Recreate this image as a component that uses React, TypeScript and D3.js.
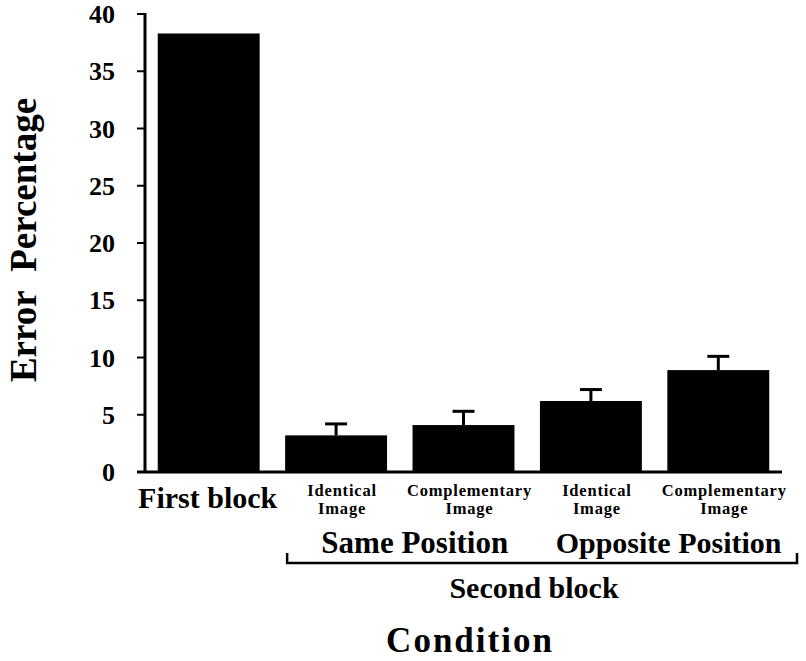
import React from 'react';
import * as d3 from 'd3';

// values
const conditions = ['first', 'same-identical', 'same-complementary', 'opp-identical', 'opp-complementary'];
const errorPct = [38.3, 3.2, 4.1, 6.2, 8.9];
const errorSE = [0, 1.0, 1.2, 1.0, 1.2];
const yTicks = [0, 5, 10, 15, 20, 25, 30, 35, 40];
const barLabels = [['First block'], ['Identical', 'Image'], ['Complementary', 'Image'], ['Identical', 'Image'], ['Complementary', 'Image']];
const groupLabels = ['Same Position', 'Opposite Position'];

const W = 806;
const H = 661;
const margin = { top: 14, right: 24, bottom: 189, left: 145 };
const font = '"Liberation Serif", "Times New Roman", serif';

const App = () => {
  const y = d3.scaleLinear().domain([0, 40]).range([H - margin.bottom, margin.top]);
  const x = d3
    .scaleBand()
    .domain(conditions)
    .range([margin.left, W - margin.right])
    .paddingInner(0.2)
    .paddingOuter(0.1);

  const y0 = y(0);
  const cx = (i) => (x(conditions[i]) ?? 0) + x.bandwidth() / 2;
  const capW = 22;

  // bracket under the second block groups
  const brLeft = x(conditions[1])! + 2;
  const brRight = 797;
  const brY = 563;

  return (
    <svg
      width={W}
      height={H}
      style={{ position: 'absolute', left: 0, top: 0, background: '#fff' }}
      fontFamily={font}
      fontWeight="bold"
    >
      {/* bars */}
      {errorPct.map((v, i) => (
        <rect
          key={conditions[i]}
          x={x(conditions[i])}
          y={y(v)}
          width={x.bandwidth()}
          height={y0 - y(v)}
          fill="#000"
        />
      ))}

      {/* error bars (upper only) */}
      {errorPct.map((v, i) =>
        errorSE[i] > 0 ? (
          <g key={'e' + i} stroke="#000" strokeWidth={3}>
            <line x1={cx(i)} x2={cx(i)} y1={y(v)} y2={y(v + errorSE[i])} />
            <line x1={cx(i) - capW / 2} x2={cx(i) + capW / 2} y1={y(v + errorSE[i])} y2={y(v + errorSE[i])} />
          </g>
        ) : null
      )}

      {/* y axis */}
      <line x1={margin.left} x2={margin.left} y1={y(40) - 1} y2={y0} stroke="#000" strokeWidth={3} />
      {yTicks.map((t) => (
        <g key={t}>
          <line x1={margin.left - 8} x2={margin.left} y1={y(t)} y2={y(t)} stroke="#000" strokeWidth={2} />
          <text x={115} y={y(t)} dy="0.35em" textAnchor="end" fontSize={26}>
            {t}
          </text>
        </g>
      ))}

      {/* x axis */}
      <line x1={margin.left - 8} x2={W - margin.right} y1={y0} y2={y0} stroke="#000" strokeWidth={3} />

      {/* category labels */}
      <text x={cx(0) - 1} y={508} textAnchor="middle" fontSize={30}>
        {barLabels[0][0]}
      </text>
      {barLabels.slice(1).map((lines, k) => (
        <text key={k} x={cx(k + 1) + 6} y={496} textAnchor="middle" fontSize={16.5} letterSpacing={0.8}>
          {lines.map((ln, j) => (
            <tspan key={j} x={cx(k + 1) + 6} dy={j === 0 ? 0 : 18}>
              {ln}
            </tspan>
          ))}
        </text>
      ))}

      {/* group labels */}
      <text x={(cx(1) + cx(2)) / 2 + 15} y={553} textAnchor="middle" fontSize={31}>
        {groupLabels[0]}
      </text>
      <text x={(cx(3) + cx(4)) / 2 + 14} y={553} textAnchor="middle" fontSize={30}>
        {groupLabels[1]}
      </text>

      <path
        d={`M${brLeft},${brY - 10}V${brY}H${brRight}V${brY - 10}`}
        fill="none"
        stroke="#000"
        strokeWidth={2.5}
      />

      <text x={534} y={598} textAnchor="middle" fontSize={30}>
        Second block
      </text>

      {/* axis titles */}
      <text x={470} y={652} textAnchor="middle" fontSize={35} letterSpacing={2}>
        Condition
      </text>
      <text
        transform={`translate(36,240) rotate(-90)`}
        textAnchor="middle"
        fontSize={37}
      >
        {'Error\u00a0 Percentage'}
      </text>
    </svg>
  );
};

export default App;
